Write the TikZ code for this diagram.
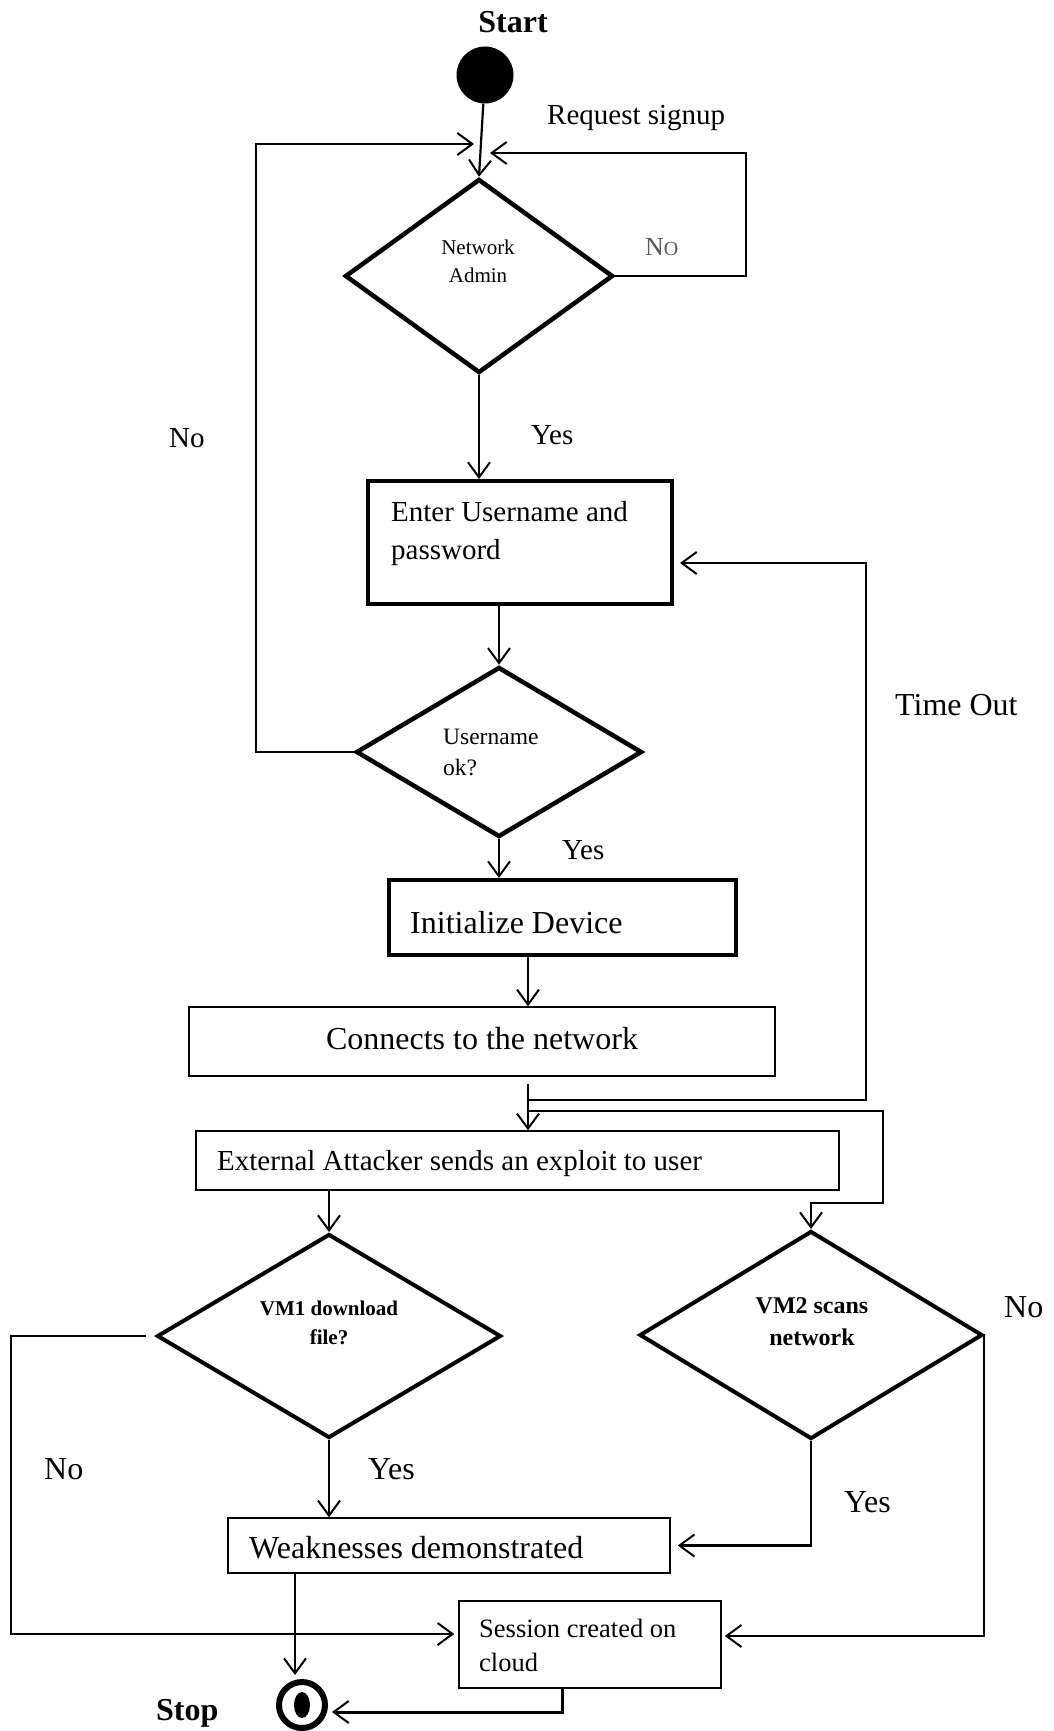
\documentclass[tikz,border=0pt]{standalone}
\usepackage{fontspec}
\setmainfont{Liberation Serif}
\usetikzlibrary{arrows.meta,shapes.geometric}
\begin{document}
\begin{tikzpicture}[x=1pt,y=-1pt,
  wire/.style={line width=2.2pt},
  arr/.style={wire,-{Straight Barb[length=15pt,width=22pt,line width=2pt]}},
  dia/.style={draw,diamond,inner sep=0pt,line width=4.5pt},
  boldbox/.style={draw,rectangle,inner sep=0pt,line width=4pt},
  thinbox/.style={draw,rectangle,inner sep=0pt,line width=1.5pt},
  lbl/.style={inner sep=0pt,anchor=base west},
  clbl/.style={inner sep=0pt,anchor=base},
  fA/.style={font=\fontsize{29}{34}\selectfont},
  fB/.style={font=\fontsize{32}{38}\selectfont},
  fS/.style={font=\fontsize{21}{25}\selectfont},
  fU/.style={font=\fontsize{23.5}{28}\selectfont},
  fSess/.style={font=\fontsize{26.5}{31}\selectfont},
]
\useasboundingbox (0,0) rectangle (1053,1731);

% ---- start ----
\node[clbl,font=\fontsize{32}{38}\selectfont\bfseries] (startlbl) at (513,33) {Start};
\node[circle,fill=black,minimum size=57pt,inner sep=0pt] (start) at (485,75) {};
\node[lbl,fA] (reqlbl) at (547,125) {Request signup};

% ---- network admin decision ----
\node[dia,minimum width=268pt,minimum height=194pt] (na) at (479,276) {};
\node[clbl,fS] (naT1) at (478,254) {Network};
\node[clbl,fS] (naT2) at (478,282) {Admin};
\node[lbl,text=black!65,font=\fontsize{26}{30}\selectfont] (naNo) at (645,255) {N{\fontsize{20}{24}\selectfont O}};

% ---- credentials ----
\node[boldbox,minimum width=304pt,minimum height=123pt] (enter) at (520,542.5) {};
\node[lbl,fA] (enterT1) at (391,521) {Enter Username and};
\node[lbl,fA] (enterT2) at (391,559) {password};

\node[lbl,fA] (noLeft) at (169,447) {No};
\node[lbl,fA] (yesNA) at (531,444) {Yes};
\node[lbl,fB] (timeout) at (895,715) {Time Out};

% ---- username check ----
\node[dia,minimum width=286pt,minimum height=170pt] (un) at (499,752) {};
\node[lbl,fU] (unT1) at (443,744) {Username};
\node[lbl,fU] (unT2) at (443,775) {ok?};
\node[lbl,fA] (yesUN) at (562,859) {Yes};

% ---- device / network ----
\node[boldbox,minimum width=347pt,minimum height=75pt] (init) at (562.5,917.5) {};
\node[lbl,fB] (initT) at (410,933) {Initialize Device};

\node[thinbox,minimum width=586pt,minimum height=69pt] (conn) at (482,1041.5) {};
\node[clbl,fB] (connT) at (482,1049) {Connects to the network};

\node[thinbox,minimum width=643pt,minimum height=59pt] (ext) at (517.5,1160.5) {};
\node[lbl,fA] (extT) at (217,1170) {External Attacker sends an exploit to user};

% ---- VM decisions ----
\node[dia,line width=4pt,minimum width=344pt,minimum height=204pt] (vm1) at (329,1336) {};
\node[clbl,font=\fontsize{21}{25}\selectfont\bfseries] (vm1T1) at (329,1315) {VM1 download};
\node[clbl,font=\fontsize{21}{25}\selectfont\bfseries] (vm1T2) at (329,1344) {file?};

\node[dia,line width=4pt,minimum width=343pt,minimum height=208pt] (vm2) at (811,1335) {};
\node[clbl,font=\fontsize{24}{28}\selectfont\bfseries] (vm2T1) at (812,1313.5) {VM2 scans};
\node[clbl,font=\fontsize{24}{28}\selectfont\bfseries] (vm2T2) at (812,1345.5) {network};

\node[lbl,fB] (noVM2) at (1004,1317) {No};
\node[lbl,fB] (noVM1) at (44,1479) {No};
\node[lbl,fB] (yesVM1) at (368,1479) {Yes};
\node[lbl,fB] (yesVM2) at (844,1512) {Yes};

% ---- results ----
\node[thinbox,minimum width=442pt,minimum height=55pt] (weak) at (449,1545.5) {};
\node[lbl,fB] (weakT) at (249,1558) {Weaknesses demonstrated};

\node[thinbox,minimum width=262pt,minimum height=87pt] (sess) at (590,1644.5) {};
\node[lbl,fSess] (sessT1) at (479,1637) {Session created on};
\node[lbl,fSess] (sessT2) at (479,1671) {cloud};

% ---- stop ----
\node[circle,draw,line width=6pt,minimum size=46pt,inner sep=0pt] (stop) at (302,1705) {};
\node[ellipse,fill=black,minimum width=16pt,minimum height=26pt,inner sep=0pt] (stopdot) at (302,1705) {};
\node[lbl,font=\fontsize{32}{38}\selectfont\bfseries] (stoplbl) at (156,1720) {Stop};

% ---- connectors ----
\draw[arr] (start) -- (na.north);

\coordinate (naLoop) at (746,153);
\coordinate (naIn) at (490,153);
\draw[arr] (na.east) -| (naLoop) -- (naIn);

\coordinate (unLoop) at (256,144);
\coordinate (unIn) at (474,144);
\draw[arr] (un.west) -| (unLoop) -- (unIn);

\draw[arr] (na.south) -- (na.south |- enter.north);
\draw[arr] (un.north |- enter.south) -- (un.north);
\draw[arr] (un.south) -- (un.south |- init.north);

\coordinate (trunk) at (528,0);
\draw[arr] (trunk |- init.south) -- (trunk |- conn.north);
\draw[arr,shorten <=7pt] (trunk |- conn.south) -- (trunk |- ext.north);

\coordinate (jT) at (528,1100);
\coordinate (toCorner) at (866,563);
\draw[arr,shorten >=6pt] (jT) -| (toCorner) -- (toCorner -| enter.east);

\coordinate (jV) at (528,1111);
\coordinate (vCorner) at (883,1203);
\draw[arr] (jV) -| (vCorner) -- (vCorner -| vm2.north) -- (vm2.north);

\draw[arr] (vm1.north |- ext.south) -- (vm1.north);

\coordinate (v1L) at (11,1634);
\draw[arr,shorten >=4pt] ([xshift=-9pt]vm1.west) -| (v1L) -- (v1L -| sess.west);

\draw[arr] (vm1.south) -- (vm1.south |- weak.north);
\draw[arr,shorten >=7pt] (vm2.south) |- (weak.east);

\coordinate (v2R) at (984,1636);
\draw[arr,shorten >=3pt] (vm2.east) -| (v2R) -- (v2R -| sess.east);

\coordinate (wDown) at (295,0);
\draw[arr,shorten >=4pt] (wDown |- weak.south) -- (wDown |- stop.north);

\coordinate (sDown) at (562,1712);
\draw[arr,line width=3pt,shorten >=4pt] (sDown |- sess.south) -- (sDown) -- (sDown -| stop.east);
\end{tikzpicture}
\end{document}
